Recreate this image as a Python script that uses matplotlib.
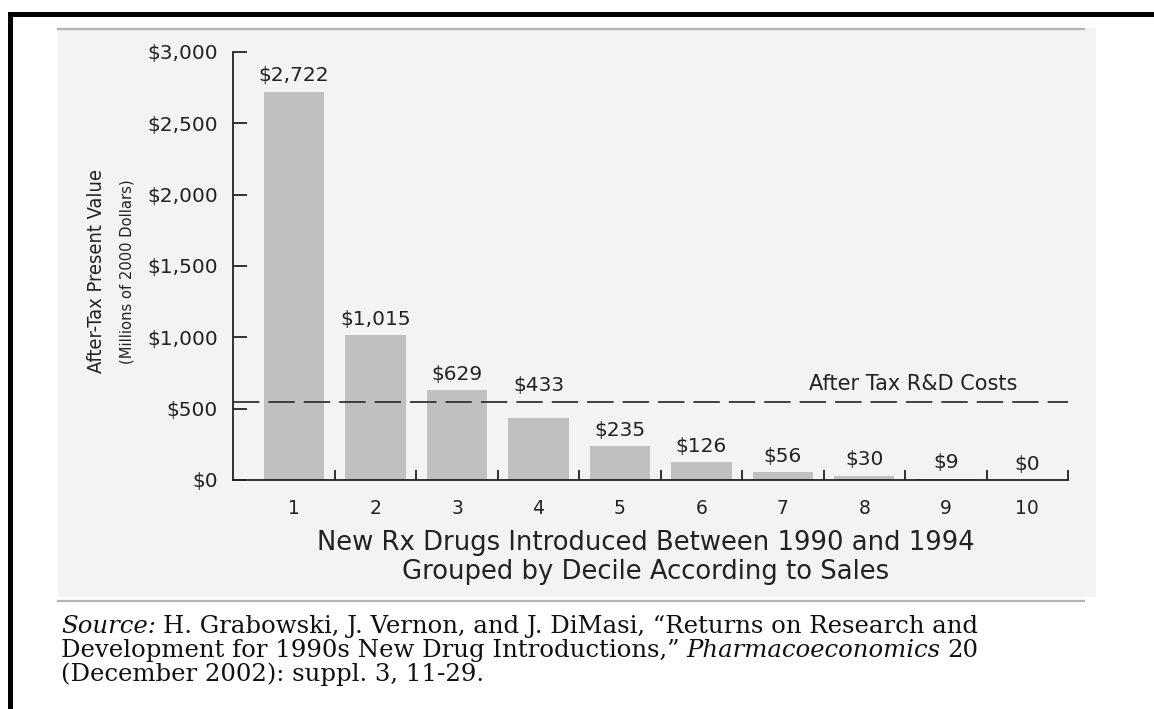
import matplotlib
matplotlib.use("Agg")
import matplotlib.pyplot as plt
from matplotlib.patches import Rectangle
from matplotlib.lines import Line2D

# ---- data ----
deciles = [1, 2, 3, 4, 5, 6, 7, 8, 9, 10]
values = [2722, 1015, 629, 433, 235, 126, 56, 30, 9, 0]
value_labels = ["$2,722", "$1,015", "$629", "$433", "$235", "$126", "$56", "$30", "$9", "$0"]
rd_cost = 550
yticks = [0, 500, 1000, 1500, 2000, 2500, 3000]
ytick_labels = ["$0", "$500", "$1,000", "$1,500", "$2,000", "$2,500", "$3,000"]

plt.rcParams['font.family'] = ['DejaVu Sans']
plt.rcParams['lines.scale_dashes'] = False

W, H = 1154, 709
fig = plt.figure(figsize=(W / 100, H / 100), dpi=100)
fig.patch.set_facecolor('white')

def fx(px):
    return px / W

def fy(py):
    return 1 - py / H

# panel background
panel = Rectangle((fx(58), fy(597)), fx(1096) - fx(58), fy(28) - fy(597),
                  transform=fig.transFigure, facecolor='#f3f3f3', edgecolor='none', zorder=-5)
fig.patches.append(panel)
# thin gray rules
fig.lines.append(Line2D([fx(58), fx(1084)], [fy(29), fy(29)], transform=fig.transFigure,
                        color='#b3b3b3', lw=1.6, zorder=-4))
fig.lines.append(Line2D([fx(58), fx(1084)], [fy(601), fy(601)], transform=fig.transFigure,
                        color='#b3b3b3', lw=1.6, zorder=-4))
# black frame (top and left)
fig.patches.append(Rectangle((fx(8), fy(16.5)), fx(1154) - fx(8), fy(12) - fy(16.5),
                             transform=fig.transFigure, facecolor='black', edgecolor='none', zorder=5))
fig.patches.append(Rectangle((fx(8), fy(709)), fx(12.5) - fx(8), fy(12) - fy(709),
                             transform=fig.transFigure, facecolor='black', edgecolor='none', zorder=5))

# axes
ax = fig.add_axes([fx(233), fy(480), fx(1068) - fx(233), fy(52) - fy(480)])
ax.set_facecolor('none')
ax.bar(deciles, values, width=0.74, color='#c0c0c0', zorder=1)
ax.set_xlim(0.25, 10.5)
ax.set_ylim(0, 3000)

for s in ['top', 'right']:
    ax.spines[s].set_visible(False)
for s in ['left', 'bottom']:
    ax.spines[s].set_linewidth(1.3)
    ax.spines[s].set_color('#222222')

ax.set_yticks(yticks)
ax.set_yticklabels(ytick_labels)
ax.tick_params(axis='y', direction='in', length=10, width=1.3, pad=11, labelsize=14.5,
               colors='#222222')
ax.set_xticks(deciles)
ax.set_xticklabels([str(d) for d in deciles])
ax.set_xticks([d + 0.5 for d in deciles], minor=True)
ax.tick_params(axis='x', which='major', length=0, pad=14, labelsize=13.5, colors='#222222')
ax.tick_params(axis='x', which='minor', direction='in', length=7, width=1.3, color='#222222')

# bar labels (a label that would sit on the cost line is lifted above it)
for d, v, lab in zip(deciles, values, value_labels):
    anchor = rd_cost if (rd_cost - 150 < v < rd_cost) else v
    ax.annotate(lab, (d, anchor), xytext=(0, 11.5), textcoords='offset points',
                ha='center', va='center', fontsize=14.5, color='#222222')

# R&D cost line
ax.axhline(rd_cost, color='#333333', lw=1.3, dashes=(19, 6.5), zorder=2)
ax.text(8.6, rd_cost + 120, "After Tax R&D Costs", ha='center', va='center',
        fontsize=15, color='#222222')

# y-axis title (two lines)
fig.text(fx(96), fy(271), "After-Tax Present Value", rotation=90, ha='center', va='center',
         fontsize=14.4, color='#222222', family='DejaVu Sans', fontstretch='condensed')
fig.text(fx(127), fy(272), "(Millions of 2000 Dollars)", rotation=90, ha='center', va='center',
         fontsize=11.8, color='#222222', family='DejaVu Sans', fontstretch='condensed')

# x-axis title
fig.text(fx(646), fy(543), "New Rx Drugs Introduced Between 1990 and 1994",
         ha='center', va='center', fontsize=18.6, color='#222222')
fig.text(fx(646), fy(572), "Grouped by Decile According to Sales",
         ha='center', va='center', fontsize=18.6, color='#222222')

# source note
serif = ['DejaVu Serif']
fs = 17.6
col = '#111111'
t1 = fig.text(fx(61), fy(633), "Source:", fontsize=fs, style='italic', family=serif,
              color=col, ha='left', va='baseline')
plt.annotate("H. Grabowski, J. Vernon, and J. DiMasi, \u201cReturns on Research and",
             xy=(1, 0), xycoords=t1, xytext=(5, 0), textcoords='offset points',
             fontsize=fs, family=serif, color=col, ha='left', va='bottom',
             annotation_clip=False)
t2 = fig.text(fx(61), fy(657), "Development for 1990s New Drug Introductions,\u201d",
              fontsize=fs, family=serif, color=col, ha='left', va='baseline')
a2 = plt.annotate("Pharmacoeconomics", xy=(1, 0), xycoords=t2, xytext=(5, 0),
                  textcoords='offset points', fontsize=fs, style='italic', family=serif,
                  color=col, ha='left', va='bottom', annotation_clip=False)
plt.annotate("20", xy=(1, 0), xycoords=a2, xytext=(5, 0), textcoords='offset points',
             fontsize=fs, family=serif, color=col, ha='left', va='bottom',
             annotation_clip=False)
fig.text(fx(61), fy(681), "(December 2002): suppl. 3, 11-29.", fontsize=fs, family=serif,
         color=col, ha='left', va='baseline')

fig.savefig("out.png", dpi=100)
